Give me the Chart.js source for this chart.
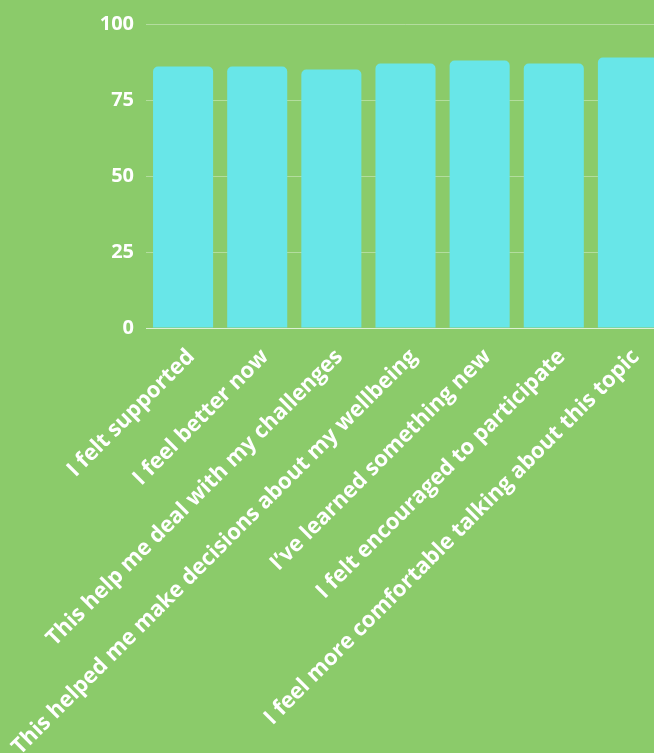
<!DOCTYPE html>
<html>
<head>
<meta charset="utf-8">
<script src="https://cdn.jsdelivr.net/npm/chart.js@4"></script>
<style>
  html, body { margin: 0; padding: 0; overflow: hidden; background: #8BCB6A; }
  #wrap { position: absolute; left: 0; top: 0; width: 665px; height: 753px; }
</style>
</head>
<body>
<div id="wrap"><canvas id="surveyChart"></canvas></div>
<script>
const CATEGORIES = [
    'I felt supported',
    'I feel better now',
    'This help me deal with my challenges',
    'This helped me make decisions about my wellbeing',
    "I\u2019ve learned something new",
    'I felt encouraged to participate',
    'I feel more comfortable talking about this topic'
];

const SCORES = [86, 86, 85, 87, 88, 87, 89];

const Y_TICKS = [0, 25, 50, 75, 100];

const BAR_COLOR = '#68E6E8';
const Y_FONT = { family: "'Open Sans', sans-serif", size: 20, weight: 'bold' };
const X_FONT = { family: "'Open Sans', sans-serif", size: 22, weight: 'bold' };

const ctx = document.getElementById('surveyChart').getContext('2d');
new Chart(ctx, {
    type: 'bar',
    data: {
        labels: CATEGORIES,
        datasets: [{
            data: SCORES,
            backgroundColor: BAR_COLOR,
            borderRadius: 5,
            categoryPercentage: 0.9,
            barPercentage: 0.9
        }]
    },
    options: {
        responsive: true,
        maintainAspectRatio: false,
        animation: false,
        layout: { padding: { top: -2 } },
        plugins: {
            legend: { display: false },
            tooltip: { enabled: false }
        },
        scales: {
            x: {
                grid: { display: false },
                border: { color: 'rgba(255,255,255,0.55)' },
                ticks: {
                    color: '#fff',
                    font: X_FONT,
                    maxRotation: 45,
                    minRotation: 45,
                    autoSkip: false,
                    padding: 8,
                    labelOffset: 8
                },
                afterFit: scale => { scale.height = 425; }
            },
            y: {
                min: 0,
                max: 100,
                afterBuildTicks: scale => { scale.ticks = Y_TICKS.map(v => ({ value: v })); },
                grid: { color: 'rgba(255,255,255,0.35)', drawTicks: false },
                border: { display: false },
                ticks: { color: '#fff', font: Y_FONT, padding: 12 },
                afterFit: scale => { scale.width = 146; }
            }
        }
    }
});
</script>
</body>
</html>
